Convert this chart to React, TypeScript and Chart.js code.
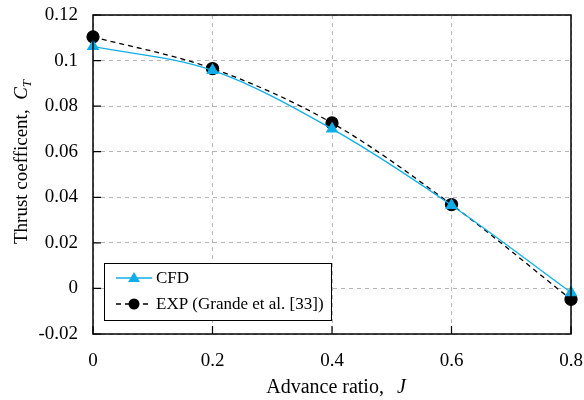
import React, { useEffect, useRef } from "react";
import { Chart, registerables } from "chart.js";

Chart.register(...registerables);

const advanceRatio = [0, 0.2, 0.4, 0.6, 0.8];
const cfdValues = [0.1062, 0.0957, 0.0700, 0.0365, -0.0018];
const expValues = [0.1104, 0.0965, 0.0726, 0.0368, -0.0048];
const yTicks = [-0.02, 0, 0.02, 0.04, 0.06, 0.08, 0.1, 0.12];
const xTicks = [0, 0.2, 0.4, 0.6, 0.8];
const cfdLabel = "CFD";
const expLabel = "EXP (Grande et al. [33])";

const SERIF = "'Liberation Serif', 'Times New Roman', serif";
const BLUE = "#10aee8";

function fmt(v: number): string {
  if (Math.abs(v) < 1e-9) return "0";
  return String(parseFloat(v.toFixed(2)));
}

const decorPlugin = {
  id: "decor",
  afterDraw(chart: any) {
    const { ctx, chartArea } = chart;
    const { left, right, top, bottom } = chartArea;
    const xs = chart.scales.x;
    const ys = chart.scales.y;
    ctx.save();
    // frame
    ctx.strokeStyle = "#000";
    ctx.lineWidth = 1.5;
    ctx.setLineDash([]);
    ctx.strokeRect(left, top, right - left, bottom - top);
    // inside ticks
    ctx.lineWidth = 1.2;
    ctx.beginPath();
    xTicks.forEach((t) => {
      const px = xs.getPixelForValue(t);
      ctx.moveTo(px, bottom);
      ctx.lineTo(px, bottom - 8);
    });
    yTicks.forEach((t) => {
      const py = ys.getPixelForValue(t);
      ctx.moveTo(left, py);
      ctx.lineTo(left + 8, py);
    });
    ctx.stroke();

    // legend
    const lx = 104, ly = 263, lw = 227, lh = 57;
    ctx.fillStyle = "#fff";
    ctx.fillRect(lx, ly, lw, lh);
    ctx.strokeStyle = "#000";
    ctx.lineWidth = 1;
    ctx.strokeRect(lx + 0.5, ly + 0.5, lw, lh);
    const r1 = 278, r2 = 304;
    // row 1
    ctx.strokeStyle = BLUE;
    ctx.lineWidth = 1.3;
    ctx.beginPath();
    ctx.moveTo(116, r1);
    ctx.lineTo(152, r1);
    ctx.stroke();
    ctx.fillStyle = BLUE;
    ctx.beginPath();
    ctx.moveTo(134, r1 - 6);
    ctx.lineTo(140, r1 + 4);
    ctx.lineTo(128, r1 + 4);
    ctx.closePath();
    ctx.fill();
    // row 2
    ctx.strokeStyle = "#000";
    ctx.setLineDash([5, 4]);
    ctx.beginPath();
    ctx.moveTo(116, r2);
    ctx.lineTo(152, r2);
    ctx.stroke();
    ctx.setLineDash([]);
    ctx.fillStyle = "#000";
    ctx.beginPath();
    ctx.arc(134, r2, 5.5, 0, Math.PI * 2);
    ctx.fill();
    ctx.font = `17px ${SERIF}`;
    ctx.textBaseline = "middle";
    ctx.textAlign = "left";
    ctx.fillText(cfdLabel, 156, r1 + 1);
    ctx.fillText(expLabel, 156, r2 + 1);

    // x title
    ctx.textBaseline = "alphabetic";
    const xt1 = "Advance ratio,  ";
    const xt2 = "J";
    ctx.font = `20px ${SERIF}`;
    const w1 = ctx.measureText(xt1).width + 3;
    ctx.font = `italic 20px ${SERIF}`;
    const w2 = ctx.measureText(xt2).width;
    const cx = 336;
    let sx = cx - (w1 + w2) / 2;
    ctx.font = `20px ${SERIF}`;
    ctx.fillText(xt1, sx, 393);
    ctx.font = `italic 20px ${SERIF}`;
    ctx.fillText(xt2, sx + w1, 393);

    // y title
    ctx.translate(27, 162);
    ctx.rotate(-Math.PI / 2);
    const yt1 = "Thrust coefficent,  ";
    ctx.font = `19px ${SERIF}`;
    const a = ctx.measureText(yt1).width;
    ctx.font = `italic 19px ${SERIF}`;
    const b = ctx.measureText("C").width;
    ctx.font = `italic 13px ${SERIF}`;
    const c = ctx.measureText("T").width;
    let s = -(a + b + c) / 2;
    ctx.font = `19px ${SERIF}`;
    ctx.fillText(yt1, s, 0);
    ctx.font = `italic 19px ${SERIF}`;
    ctx.fillText("C", s + a, 0);
    ctx.font = `italic 13px ${SERIF}`;
    ctx.fillText("T", s + a + b, 4);
    ctx.restore();
  },
};

export default function App() {
  const ref = useRef<HTMLCanvasElement | null>(null);
  useEffect(() => {
    if (!ref.current) return;
    const chart = new Chart(ref.current, {
      type: "line",
      data: {
        datasets: [
          {
            label: cfdLabel,
            data: advanceRatio.map((x, i) => ({ x, y: cfdValues[i] })),
            borderColor: BLUE,
            backgroundColor: BLUE,
            borderWidth: 1.3,
            pointStyle: "triangle",
            pointRadius: 6,
            cubicInterpolationMode: "monotone",
            clip: false,
          } as any,
          {
            label: expLabel,
            data: advanceRatio.map((x, i) => ({ x, y: expValues[i] })),
            borderColor: "#000",
            backgroundColor: "#000",
            borderWidth: 1.3,
            borderDash: [5, 4],
            pointStyle: "circle",
            pointRadius: 6,
            cubicInterpolationMode: "monotone",
            clip: false,
          } as any,
        ],
      },
      options: {
        animation: false,
        responsive: false,
        layout: { padding: { left: 0, right: 13, top: 15, bottom: 0 } },
        plugins: { legend: { display: false }, tooltip: { enabled: false } },
        scales: {
          x: {
            type: "linear",
            min: 0,
            max: 0.8,
            afterBuildTicks: (scale: any) => {
              scale.ticks = xTicks.map((v) => ({ value: v }));
            },
            afterFit: (scale: any) => {
              scale.height = 66;
              scale.paddingLeft = 0;
              scale.paddingRight = 0;
            },
            ticks: {
              color: "#000",
              font: { family: SERIF, size: 19 },
              padding: 16,
              maxRotation: 0,
              callback: (v: any) => fmt(Number(v)),
            },
            grid: { color: "#b4b4b4", lineWidth: 1, drawTicks: false },
            border: { display: false, dash: [4, 4] },
          },
          y: {
            type: "linear",
            min: -0.02,
            max: 0.12,
            afterBuildTicks: (scale: any) => {
              scale.ticks = yTicks.map((v) => ({ value: v }));
            },
            afterFit: (scale: any) => {
              scale.width = 93;
              scale.paddingTop = 0;
              scale.paddingBottom = 0;
            },
            ticks: {
              color: "#000",
              font: { family: SERIF, size: 19 },
              padding: 15,
              callback: (v: any) => fmt(Number(v)),
            },
            grid: { color: "#b4b4b4", lineWidth: 1, drawTicks: false },
            border: { display: false, dash: [4, 4] },
          },
        },
      },
      plugins: [decorPlugin],
    });
    return () => chart.destroy();
  }, []);
  return (
    <div style={{ position: "fixed", left: 0, top: 0, width: 584, height: 400, background: "#fff" }}>
      <canvas ref={ref} width={584} height={400} style={{ width: 584, height: 400 }} />
    </div>
  );
}
